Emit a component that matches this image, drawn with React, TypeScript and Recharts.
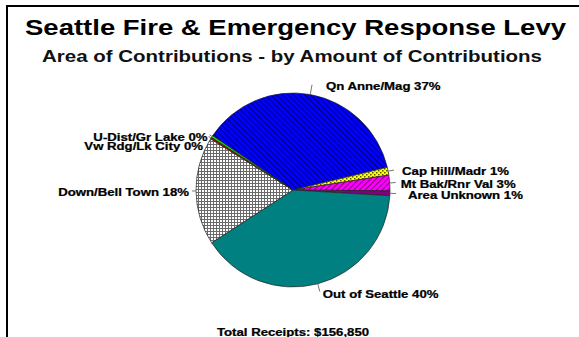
import React from "react";
import { PieChart, Pie, Cell } from "recharts";

const areas = [
  "Qn Anne/Mag",
  "Cap Hill/Madr",
  "Mt Bak/Rnr Val",
  "Area Unknown",
  "Out of Seattle",
  "Down/Bell Town",
  "Vw Rdg/Lk City",
  "U-Dist/Gr Lake",
];
const shares = [36.8, 1.3, 2.6, 0.8, 39.9, 18.0, 0.3, 0.3];
const fills = [
  "url(#hatchBlue)",
  "url(#dotYellow)",
  "url(#hatchMagenta)",
  "#800080",
  "#008080",
  "url(#gridGray)",
  "#c00000",
  "#00ff00",
];
const title = "Seattle Fire & Emergency Response Levy";
const subtitle = "Area of Contributions - by Amount of Contributions";
const totalLabel = "Total Receipts: $156,850";

// Excel-style label placement: leader length, then text offset from its end
const labelNudge: Record<string, { len: number; dx: number; dy: number }> = {
  "Qn Anne/Mag": { len: 10, dx: 14, dy: 2 },
  "Cap Hill/Madr": { len: 6, dx: 8, dy: 1 },
  "Mt Bak/Rnr Val": { len: 6, dx: 5, dy: 2 },
  "Area Unknown": { len: 6, dx: 12, dy: 2 },
  "Out of Seattle": { len: 8, dx: 3, dy: 2.5 },
  "Down/Bell Town": { len: 4, dx: -3, dy: 1 },
  "Vw Rdg/Lk City": { len: 3, dx: -5.6, dy: 9.7 },
  "U-Dist/Gr Lake": { len: 3, dx: -2, dy: 3 },
};

const FONT = "'Liberation Sans', Arial, sans-serif";
const RAD = Math.PI / 180;

function renderLabel(props: any) {
  const { cx, cy, midAngle, outerRadius, percent, name } = props;
  const n = labelNudge[name] || { len: 8, dx: 0, dy: 0 };
  const cos = Math.cos(-midAngle * RAD);
  const sin = Math.sin(-midAngle * RAD);
  const x0 = cx + outerRadius * cos;
  const y0 = cy + outerRadius * sin;
  const x1 = cx + (outerRadius + n.len) * cos;
  const y1 = cy + (outerRadius + n.len) * sin;
  const anchor = cos >= 0 ? "start" : "end";
  return (
    <g key={name}>
      <line x1={x0} y1={y0} x2={x1} y2={y1} stroke="#777" strokeWidth={1} />
      <text
        x={0}
        y={0}
        transform={`translate(${x1 + n.dx} ${y1 + n.dy}) scale(1.2 1)`}
        textAnchor={anchor}
        dominantBaseline="central"
        fontFamily={FONT}
        fontWeight="bold"
        fontSize={11}
        fill="#000"
        stroke="#000"
        strokeWidth={0.25}
      >
        {`${name} ${Math.round(percent * 100)}%`}
      </text>
    </g>
  );
}

export default function App() {
  const data = areas.map((name, i) => ({ name, value: shares[i] }));
  return (
    <div
      style={{
        position: "absolute",
        left: 0,
        top: 0,
        width: 579,
        height: 337,
        overflow: "hidden",
        background: "#fff",
      }}
    >
      <svg width={0} height={0} style={{ position: "absolute" }}>
        <defs>
          <pattern id="hatchBlue" width="4" height="4" patternUnits="userSpaceOnUse" patternTransform="rotate(-45)">
            <rect width="4" height="4" fill="#0000ff" />
            <line x1="0.5" y1="0" x2="0.5" y2="4" stroke="#00007a" strokeWidth="1" />
          </pattern>
          <pattern id="hatchMagenta" width="4" height="4" patternUnits="userSpaceOnUse" patternTransform="rotate(45)">
            <rect width="4" height="4" fill="#ff00ff" />
            <line x1="0.5" y1="0" x2="0.5" y2="4" stroke="#800080" strokeWidth="1.2" />
          </pattern>
          <pattern id="dotYellow" width="4" height="4" patternUnits="userSpaceOnUse">
            <rect width="4" height="4" fill="#ffff00" />
            <rect x="0" y="0" width="1.5" height="1.5" fill="#555500" />
            <rect x="2" y="2" width="1.5" height="1.5" fill="#555500" />
          </pattern>
          <pattern id="gridGray" width="3" height="3" patternUnits="userSpaceOnUse">
            <rect width="3" height="3" fill="#ffffff" />
            <line x1="0.5" y1="0" x2="0.5" y2="3" stroke="#6a6a6a" strokeWidth="1" />
            <line x1="0" y1="0.5" x2="3" y2="0.5" stroke="#6a6a6a" strokeWidth="1" />
          </pattern>
        </defs>
      </svg>
      <PieChart width={579} height={337} margin={{ top: 0, right: 0, bottom: 0, left: 0 }}>
        <Pie
          data={data}
          dataKey="value"
          nameKey="name"
          cx={293}
          cy={190}
          outerRadius={97}
          startAngle={146}
          endAngle={-214}
          label={renderLabel}
          labelLine={false}
          isAnimationActive={false}
        >
          {data.map((d, i) => (
            <Cell key={d.name} fill={fills[i]} stroke="#222" strokeWidth={0.7} />
          ))}
        </Pie>
      </PieChart>
      <svg
        width={579}
        height={337}
        style={{ position: "absolute", left: 0, top: 0, pointerEvents: "none" }}
      >
        <line x1={7} y1={5} x2={7} y2={337} stroke="#000" strokeWidth={2} />
        <line x1={6} y1={6} x2={579} y2={6} stroke="#000" strokeWidth={2} />
        <text
          x={25}
          y={35}
          textLength={541}
          lengthAdjust="spacingAndGlyphs"
          fontFamily={FONT}
          fontWeight="bold"
          fontSize={22}
          fill="#000"
        >
          {title}
        </text>
        <text
          x={42}
          y={62}
          textLength={500}
          lengthAdjust="spacingAndGlyphs"
          fontFamily={FONT}
          fontWeight="bold"
          fontSize={17}
          fill="#111"
        >
          {subtitle}
        </text>
        <text
          x={0}
          y={0}
          transform="translate(293 336) scale(1.2 1)"
          textAnchor="middle"
          fontFamily={FONT}
          fontWeight="bold"
          fontSize={11}
          fill="#000"
          stroke="#000"
          strokeWidth={0.25}
        >
          {totalLabel}
        </text>
      </svg>
    </div>
  );
}
